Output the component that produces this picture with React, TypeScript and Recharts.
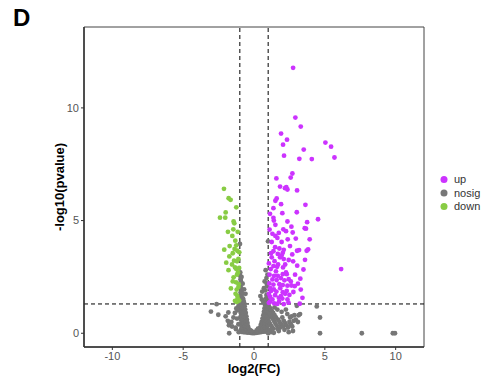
import React from "react";
import {
  ScatterChart,
  Scatter,
  XAxis,
  YAxis,
  ReferenceLine,
  ReferenceArea,
} from "recharts";

// ---- data (log2FC, -log10 pvalue) ----
const upPoints: [number, number][] = [
  [2.76, 11.78], [2.92, 9.57], [3.3, 9.17], [1.91, 8.86], [2.33, 8.59], [2.05, 8.37],
  [3.51, 8.15], [2.12, 7.88], [3.2, 7.74], [4.08, 7.73], [5.04, 8.46], [5.44, 8.28],
  [5.68, 7.8], [2.71, 7.09], [2.59, 6.91], [1.58, 6.87], [1.84, 6.51], [2.19, 6.44],
  [2.36, 6.38], [3.04, 6.34], [2.28, 6.48], [1.6, 5.98], [1.51, 5.88], [1.91, 5.73],
  [3.63, 5.7], [1.37, 5.55], [2.0, 5.33], [3.02, 5.37], [1.13, 5.3], [1.37, 5.12],
  [2.36, 4.96], [3.75, 4.93], [4.52, 5.06], [2.64, 4.73], [1.51, 4.81], [2.07, 4.61],
  [2.26, 4.53], [2.73, 4.47], [3.58, 4.66], [3.67, 4.64], [1.3, 4.41], [1.51, 4.32],
  [1.65, 4.23], [3.93, 4.17], [2.38, 4.17], [2.54, 3.87], [1.49, 3.82], [1.79, 3.76],
  [2.1, 3.7], [1.37, 3.64], [1.68, 3.52], [2.03, 3.57], [3.04, 3.66], [3.18, 3.69],
  [3.72, 3.66], [3.82, 3.72], [1.25, 3.37], [1.84, 3.37], [2.1, 3.29], [2.76, 3.19],
  [3.6, 3.26], [1.37, 2.98], [1.63, 2.95], [2.05, 2.92], [1.18, 2.85], [3.49, 2.83],
  [6.15, 2.85], [2.26, 2.7], [1.42, 2.55], [1.68, 2.55], [2.03, 2.62], [2.31, 2.62],
  [1.3, 2.39], [1.6, 2.36], [3.27, 2.42], [1.08, 2.21], [1.37, 2.16], [1.79, 2.18],
  [2.03, 2.14], [2.36, 2.11], [2.64, 2.12], [2.87, 2.09], [3.3, 1.94], [1.2, 1.88],
  [1.58, 1.85], [2.03, 1.82], [2.31, 1.88], [2.78, 1.83], [1.13, 1.62], [1.49, 1.69],
  [1.75, 1.57], [2.0, 1.54], [2.36, 1.5], [3.42, 1.57], [1.13, 1.4], [1.42, 1.33],
  [1.77, 1.4], [2.1, 1.29], [2.43, 1.36], [3.23, 1.31], [1.05, 3.1], [1.2, 3.55],
  [1.45, 3.2], [1.7, 3.05], [1.95, 3.45], [2.2, 3.05], [1.1, 2.6], [1.55, 2.75],
  [1.9, 2.45], [2.15, 2.35], [2.45, 2.4], [1.15, 2.0], [1.4, 1.95], [1.85, 2.0],
  [2.5, 1.7], [1.05, 1.75], [1.3, 1.5], [1.65, 1.3], [1.9, 1.65], [2.2, 1.75],
  [1.25, 4.05], [1.75, 4.45], [1.95, 4.05], [1.1, 4.6], [1.4, 5.0], [1.05, 1.35],
  [2.6, 2.3], [2.9, 2.6], [3.1, 2.2], [2.95, 4.2], [3.05, 3.0], [2.7, 3.5], [2.45, 3.25],
];

const downPoints: [number, number][] = [
  [-2.12, 6.41], [-1.79, 5.99], [-1.65, 5.92], [-1.25, 5.59], [-2.0, 5.36], [-2.4, 5.13],
  [-2.03, 5.13], [-1.44, 4.96], [-1.39, 4.88], [-1.46, 4.61], [-1.84, 4.5], [-1.53, 4.32],
  [-1.32, 4.11], [-1.72, 3.87], [-2.1, 3.71], [-1.37, 3.74], [-1.18, 3.66], [-1.04, 3.59],
  [-1.74, 3.41], [-1.41, 3.22], [-1.2, 3.19], [-1.96, 3.13], [-1.34, 2.92], [-1.25, 2.85],
  [-1.13, 2.7], [-1.44, 2.48], [-1.27, 2.26], [-1.08, 2.18], [-1.63, 1.99], [-1.22, 1.94],
  [-1.18, 1.66], [-1.34, 1.44], [-1.22, 1.39], [-1.05, 1.45], [-1.15, 1.55], [-1.3, 1.75],
  [-1.1, 2.05], [-1.5, 2.3], [-1.2, 2.6], [-1.05, 2.9], [-1.55, 3.05], [-1.1, 3.3],
  [-1.25, 3.9], [-1.15, 4.5], [-1.5, 3.55], [-1.8, 2.8],
];

const nosigPoints: [number, number][] = [
  // left arm of the V
  [-0.98, 2.55], [-0.95, 2.4], [-0.92, 2.3], [-0.97, 2.15], [-0.9, 2.0], [-0.86, 1.9],
  [-0.95, 1.8], [-0.82, 1.75], [-0.88, 1.62], [-0.78, 1.55], [-0.93, 1.5], [-0.74, 1.45],
  [-0.85, 1.4], [-0.7, 1.35], [-0.96, 1.3], [-0.8, 1.25], [-0.66, 1.2], [-0.9, 1.15],
  [-0.75, 1.1], [-0.62, 1.05], [-0.98, 1.0], [-0.84, 0.98], [-0.7, 0.95], [-0.58, 0.9],
  [-0.92, 0.88], [-0.78, 0.85], [-0.64, 0.8], [-0.54, 0.75], [-0.96, 0.72], [-0.86, 0.7],
  [-0.72, 0.68], [-0.6, 0.65], [-0.5, 0.6], [-0.9, 0.58], [-0.8, 0.55], [-0.68, 0.52],
  [-0.56, 0.5], [-0.46, 0.45], [-0.94, 0.42], [-0.84, 0.4], [-0.74, 0.38], [-0.62, 0.36],
  [-0.52, 0.34], [-0.42, 0.3], [-0.88, 0.28], [-0.78, 0.25], [-0.66, 0.24], [-0.56, 0.22],
  [-0.46, 0.2], [-0.36, 0.18], [-0.92, 0.15], [-0.82, 0.14], [-0.7, 0.12], [-0.6, 0.11],
  [-0.5, 0.1], [-0.4, 0.09], [-0.3, 0.08], [-0.86, 0.06], [-0.74, 0.05], [-0.64, 0.05],
  [-0.54, 0.04], [-0.44, 0.03], [-0.34, 0.03], [-0.24, 0.02], [-0.14, 0.01], [-0.05, 0.01],
  [-0.99, 3.96], [-0.97, 2.7], [-0.88, 2.5], [-0.8, 2.2], [-0.7, 1.95], [-0.6, 1.75],
  // bottom of the V
  [0.05, 0.01], [0.15, 0.02], [0.25, 0.03], [0.35, 0.04], [-0.2, 0.06], [-0.1, 0.05],
  [0.0, 0.04], [0.1, 0.05], [0.2, 0.07], [0.3, 0.1], [-0.28, 0.14], [-0.18, 0.1],
  [0.38, 0.15], [0.28, 0.2], [0.18, 0.13],
  // right arm of the V
  [0.45, 0.05], [0.55, 0.06], [0.65, 0.07], [0.75, 0.08], [0.85, 0.09], [0.95, 0.06],
  [0.42, 0.25], [0.52, 0.18], [0.62, 0.14], [0.72, 0.16], [0.82, 0.18], [0.92, 0.2],
  [0.48, 0.38], [0.58, 0.3], [0.68, 0.28], [0.78, 0.3], [0.88, 0.32], [0.98, 0.35],
  [0.54, 0.5], [0.64, 0.45], [0.74, 0.42], [0.84, 0.45], [0.94, 0.48], [0.6, 0.65],
  [0.7, 0.6], [0.8, 0.58], [0.9, 0.62], [0.99, 0.65], [0.66, 0.8], [0.76, 0.75],
  [0.86, 0.78], [0.96, 0.8], [0.7, 0.95], [0.8, 0.92], [0.9, 0.95], [0.98, 0.98],
  [0.74, 1.1], [0.84, 1.08], [0.94, 1.12], [0.78, 1.25], [0.88, 1.22], [0.97, 1.28],
  [0.82, 1.4], [0.92, 1.38], [0.86, 1.55], [0.96, 1.52], [0.88, 1.7], [0.95, 1.68],
  [0.7, 2.0], [0.58, 1.85], [0.8, 1.9], [0.92, 2.1], [0.75, 2.3], [0.88, 2.45],
  [0.95, 2.6], [0.82, 2.8], [0.99, 4.08], [0.9, 2.2], [0.45, 1.65], [0.55, 1.5], [0.65, 1.4],
  // left, outside thresholds
  [-2.64, 1.29], [-3.04, 0.96], [-2.52, 0.82], [-1.81, 0.92], [-1.15, 1.02], [-1.45, 0.7],
  [-1.85, 0.55], [-1.75, 0.45], [-1.77, 0.35], [-1.6, 0.5], [-1.3, 0.25], [-1.2, 0.65],
  [-1.1, 0.4], [-1.27, 0.18], [-1.08, 0.05], [-1.75, 0.0], [-1.35, 0.9], [-1.55, 0.3],
  [-2.0, 0.75], [-1.1, 1.2], [-1.25, 1.1],
  // right, below p threshold
  [1.05, 1.2], [1.15, 1.1], [1.25, 1.0], [1.35, 0.9], [1.1, 0.85], [1.2, 0.75],
  [1.3, 0.65], [1.45, 0.8], [1.55, 0.7], [1.4, 0.55], [1.05, 0.5], [1.15, 0.4],
  [1.25, 0.3], [1.35, 0.2], [1.5, 0.45], [1.6, 0.35], [1.7, 0.6], [1.8, 0.5],
  [1.9, 0.4], [1.65, 0.2], [1.75, 0.1], [1.85, 0.25], [2.0, 0.7], [2.1, 0.55],
  [2.2, 0.45], [2.05, 0.3], [2.15, 0.15], [2.3, 0.35], [2.4, 0.25], [2.5, 0.5],
  [2.6, 0.4], [2.7, 0.3], [2.8, 0.55], [2.55, 0.7], [2.35, 0.85], [1.95, 0.95],
  [1.65, 1.05], [1.45, 1.15], [2.25, 1.05], [2.65, 0.75], [2.85, 0.8], [3.02, 1.22],
  [3.25, 0.85], [3.15, 0.8], [2.95, 0.6], [3.1, 0.5], [1.2, 0.05], [1.4, 0.02],
  [1.0, 0.0], [2.45, 0.05], [2.75, 0.1], [1.1, 0.15], [4.43, 1.19], [4.66, 0.7],
  [4.66, 0.0], [7.61, 0.0], [9.8, 0.0], [9.95, 0.0],
];

const xTicks = [-10, -5, 0, 5, 10];
const yTicks = [0, 5, 10];
const xDomain: [number, number] = [-12, 12];
const yDomain: [number, number] = [-0.61, 13.59];
const fcCut = 1;
const pCut = 1.3;

const seriesNames = ["up", "nosig", "down"];
const seriesColors = ["#CC33FF", "#777777", "#88CC44"];

const toObj = (arr: [number, number][]) => arr.map(([x, y]) => ({ x, y }));

const dot = (color: string) => (props: any) => (
  <circle cx={props.cx} cy={props.cy} r={2.4} fill={color} />
);

const FONT = "'Liberation Sans', Arial, sans-serif";

export default function App() {
  return (
    <div style={{ position: "absolute", left: 0, top: 0, width: 503, height: 388, background: "#fff" }}>
      <ScatterChart
        width={503}
        height={388}
        margin={{ top: 27, right: 79, bottom: 0, left: 0 }}
      >
        <XAxis
          type="number"
          dataKey="x"
          domain={xDomain}
          ticks={xTicks}
          allowDataOverflow
          height={41}
          tickSize={3}
          tickMargin={2}
          axisLine={{ stroke: "#333", strokeWidth: 1.5 }}
          tickLine={{ stroke: "#333" }}
          tick={{ fill: "#555555", fontSize: 11, fontFamily: FONT }}
          label={{
            value: "log2(FC)",
            position: "insideBottom",
            offset: 15,
            style: { fill: "#000", fontSize: 13, fontWeight: "bold", fontFamily: FONT },
          }}
        />
        <YAxis
          type="number"
          dataKey="y"
          domain={yDomain}
          ticks={yTicks}
          allowDataOverflow
          width={84}
          tickSize={3}
          tickMargin={2}
          axisLine={{ stroke: "#333", strokeWidth: 1.5 }}
          tickLine={{ stroke: "#333" }}
          tick={{ fill: "#555555", fontSize: 11, fontFamily: FONT }}
          label={{
            value: "-log10(pvalue)",
            angle: -90,
            position: "insideLeft",
            offset: 59,
            style: { fill: "#000", fontSize: 13, fontWeight: "bold", fontFamily: FONT, textAnchor: "middle" },
          }}
        />
        <ReferenceArea
          x1={xDomain[0]}
          x2={xDomain[1]}
          y1={yDomain[0]}
          y2={yDomain[1]}
          fill="none"
          stroke="#444"
          strokeWidth={1}
          ifOverflow="visible"
        />
        <Scatter name="nosig" data={toObj(nosigPoints)} shape={dot(seriesColors[1])} isAnimationActive={false} />
        <Scatter name="up" data={toObj(upPoints)} shape={dot(seriesColors[0])} isAnimationActive={false} />
        <Scatter name="down" data={toObj(downPoints)} shape={dot(seriesColors[2])} isAnimationActive={false} />
        <ReferenceLine x={-fcCut} stroke="#000" strokeDasharray="4 3" />
        <ReferenceLine x={fcCut} stroke="#000" strokeDasharray="4 3" />
        <ReferenceLine y={pCut} stroke="#000" strokeDasharray="4 3" />
      </ScatterChart>
      <svg
        width={503}
        height={388}
        style={{ position: "absolute", left: 0, top: 0, pointerEvents: "none" }}
      >
        <text x={13} y={26} fontSize={24} fontWeight="bold" fontFamily={FONT} fill="#000">
          D
        </text>
        {seriesNames.map((n, i) => (
          <g key={n}>
            <circle cx={444} cy={179.5 + i * 13.5} r={3.5} fill={seriesColors[i]} />
            <text x={454} y={179.5 + i * 13.5} dy="0.35em" fontSize={11} fontFamily={FONT} fill="#333">
              {n}
            </text>
          </g>
        ))}
      </svg>
    </div>
  );
}
